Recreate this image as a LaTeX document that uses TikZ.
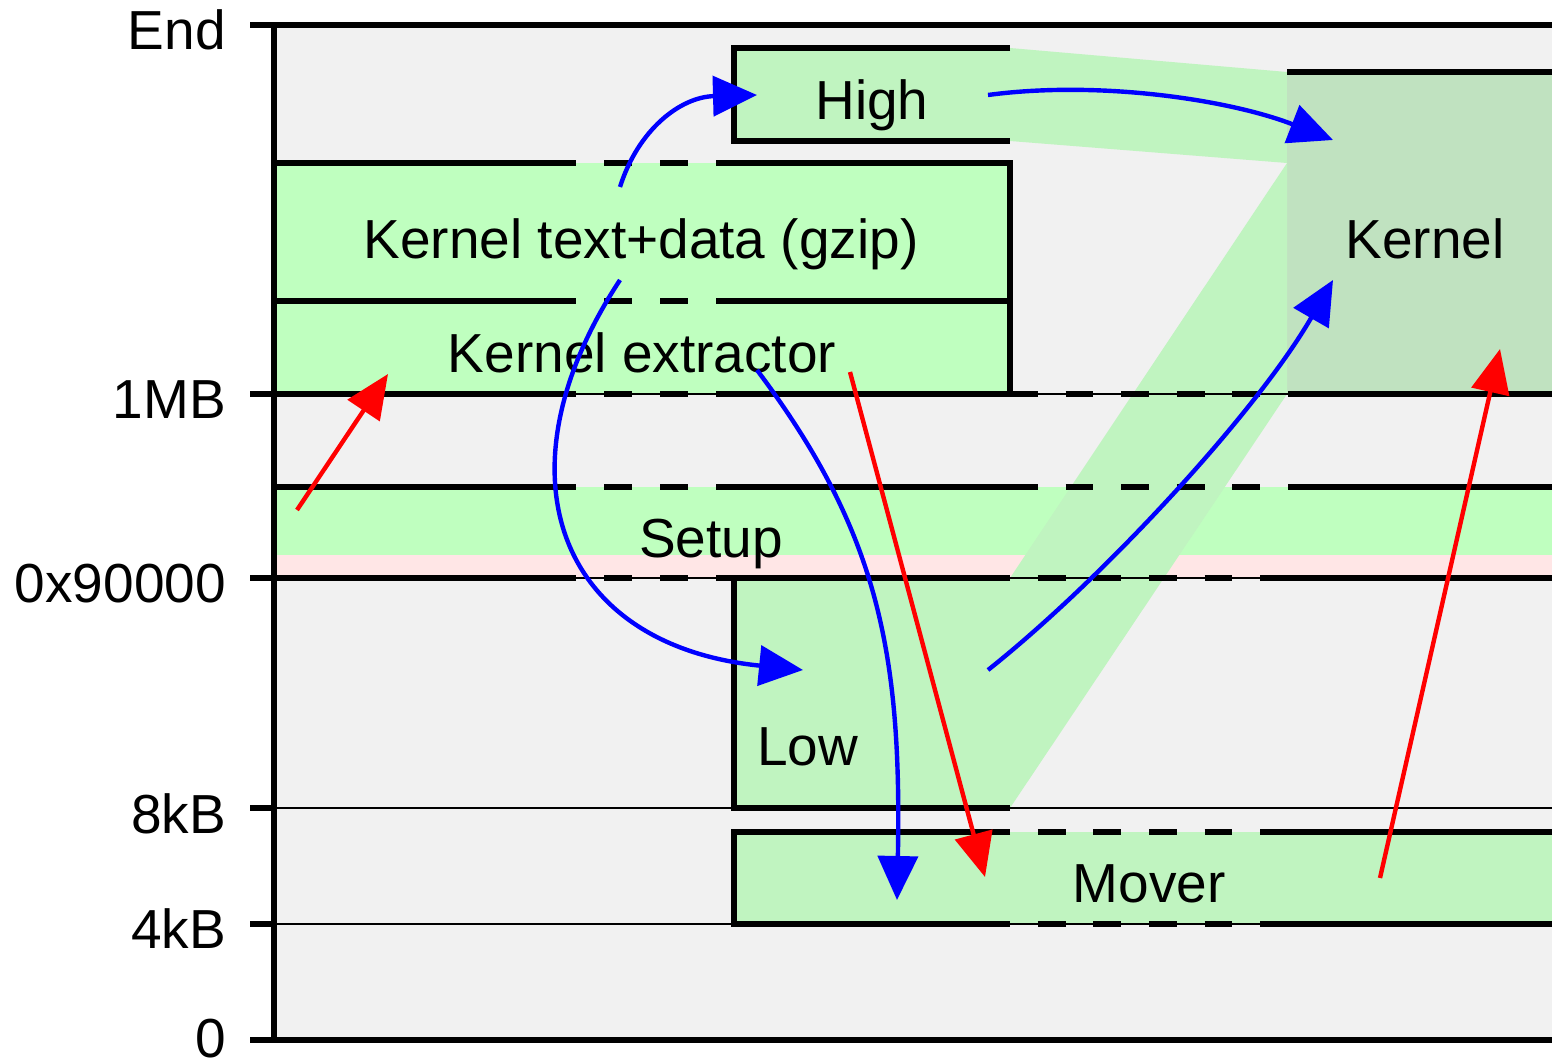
\documentclass[tikz,border=0pt]{standalone}
\usepackage{fontspec}
\setmainfont{Liberation Sans}
\usetikzlibrary{arrows.meta}
\definecolor{bg}{HTML}{F1F1F1}
\definecolor{boxgreen}{HTML}{BFFFBF}
\definecolor{movegreen}{HTML}{C0F4C0}
\definecolor{kerngreen}{HTML}{C0E2C0}
\definecolor{pinkband}{HTML}{FFE6E6}
\definecolor{arrblue}{HTML}{0000FF}
\definecolor{arrred}{HTML}{FF0000}
\begin{document}
\begin{tikzpicture}[x=1pt,y=-1pt,
  thickline/.style={line width=5.6pt},
  thinline/.style={line width=2.6pt},
  dashoff/.style={line width=5.6pt, dash pattern=on 28pt off 28pt, dash phase=28pt},
  dashon/.style={line width=5.6pt, dash pattern=on 27.8pt off 27.8pt},
  dashoffb/.style={line width=5.6pt, dash pattern=on 27.8pt off 27.8pt, dash phase=27.8pt},
  lbl/.style={font=\fontsize{55}{66}\selectfont, inner sep=0pt, anchor=base},
  axl/.style={font=\fontsize{55}{66}\selectfont, inner sep=0pt, anchor=base east},
  bluearr/.style={draw=arrblue, line width=4.4pt, -{Triangle[length=44pt,width=40pt]}},
  redarr/.style={draw=arrred, line width=4.4pt, -{Triangle[length=44pt,width=38pt]}},
]
\useasboundingbox (0,0) rectangle (1552,1064);
% background
\fill[bg] (274,25) rectangle (1552,1040);
% bands
\fill[boxgreen] (274,487) rectangle (1552,555);
\fill[pinkband] (274,555) rectangle (1552,578);
% kernel text+data / extractor
\fill[boxgreen] (274,163) rectangle (1010,394);
% high box and move trapezoid
\fill[movegreen] (734,48) rectangle (1010,141);
\fill[movegreen] (1010,48) -- (1287,72) -- (1287,163) -- (1010,141) -- cycle;
% kernel box
\fill[kerngreen] (1287,72) rectangle (1552,394);
% low -> kernel parallelogram
\fill[movegreen] (1010,578) -- (1287,163) -- (1287,394) -- (1010,808) -- cycle;
% low box
\fill[movegreen] (734,578) rectangle (1010,808);
% mover
\fill[movegreen] (734,832) rectangle (1552,924);

% thin lines
\foreach \yy in {394,578,808,924} \draw[thinline] (250,\yy) -- (1552,\yy);

% axis and ticks
\draw[thickline] (274,25) -- (274,1040);
\draw[thickline] (250,25) -- (1552,25);
\draw[thickline] (250,1040) -- (1552,1040);
\foreach \yy in {394,578,808,924} \draw[thickline] (250,\yy) -- (274,\yy);

% kernel text box outline
\draw[thickline] (274,163) -- (576,163);
\draw[dashoff] (576,163) -- (716,163);
\draw[thickline] (716,163) -- (1010,163) -- (1010,394);
\draw[thickline] (274,301) -- (576,301);
\draw[dashoff] (576,301) -- (716,301);
\draw[thickline] (716,301) -- (1010,301);
% 1MB line
\draw[thickline] (274,394) -- (576,394);
\draw[dashoff] (576,394) -- (716,394);
\draw[thickline] (716,394) -- (1010,394);
\draw[dashon] (1010,394) -- (1288,394);
\draw[thickline] (1288,394) -- (1552,394);
% setup top
\draw[thickline] (274,487) -- (576,487);
\draw[dashoff] (576,487) -- (716,487);
\draw[thickline] (716,487) -- (1010,487);
\draw[dashon] (1010,487) -- (1288,487);
\draw[thickline] (1288,487) -- (1552,487);
% 0x90000 line
\draw[thickline] (274,578) -- (576,578);
\draw[dashoff] (576,578) -- (716,578);
\draw[thickline] (716,578) -- (1010,578);
\draw[dashoffb] (1010,578) -- (1288,578);
\draw[thickline] (1288,578) -- (1552,578);
% high box
\draw[thickline] (1010,48) -- (734,48) -- (734,141) -- (1010,141);
% kernel box top
\draw[thickline] (1287,72) -- (1552,72);
% low box
\draw[thickline] (734,578) -- (734,808) -- (1010,808);
% mover
\draw[thickline] (1010,832) -- (734,832) -- (734,924) -- (1010,924);
\draw[dashoffb] (1010,832) -- (1288,832);
\draw[thickline] (1288,832) -- (1552,832);
\draw[dashoffb] (1010,924) -- (1288,924);
\draw[thickline] (1288,924) -- (1552,924);

% labels
\node[lbl] (high) at (872,120) {High};
\node[lbl] (ktext) at (641,259) {Kernel text+data (gzip)};
\node[lbl] (kext) at (642,372) {Kernel extractor};
\node[lbl] (kern) at (1425,259) {Kernel};
\node[lbl] (setup) at (711,557) {Setup};
\node[lbl, anchor=base west] (low) at (757,765) {Low};
\node[lbl] (mover) at (1149,902) {Mover};
\node[axl] (lend) at (226,50) {End};
\node[axl] (l1mb) at (226,418) {1MB};
\node[axl] (l9) at (226,602) {0x90000};
\node[axl] (l8k) at (226,833) {8kB};
\node[axl] (l4k) at (226,948) {4kB};
\node[axl] (l0) at (226,1057) {0};

% arrow end points
\coordinate (b1s) at (620,187); \coordinate (b1e) at (757,95);
\coordinate (b2s) at (988,95);  \coordinate (b2e) at (1333,140);
\coordinate (b3s) at (620,280); \coordinate (b3e) at (803,670);
\coordinate (b4s) at (757,370); \coordinate (b4e) at (897,900);
\coordinate (b5s) at (988,670); \coordinate (b5e) at (1333,280);
\coordinate (r1s) at (297,510); \coordinate (r1e) at (388,374);
\coordinate (r2s) at (850,372); \coordinate (r2e) at (985,877);
\coordinate (r3s) at (1380,878); \coordinate (r3e) at (1500,349);

\draw[bluearr] (b1s) .. controls (638,130) and (680,97) .. (b1e);
\draw[bluearr] (b2s) .. controls (1100,80) and (1230,100) .. (b2e);
\draw[bluearr] (b3s) .. controls (494,471) and (555,645) .. (b3e);
\draw[bluearr] (b4s) .. controls (877,530) and (902,650) .. (b4e);
\draw[bluearr] (b5s) .. controls (1105,577) and (1258,410) .. (b5e);
\draw[redarr] (r1s) -- (r1e);
\draw[redarr] (r2s) -- (r2e);
\draw[redarr] (r3s) -- (r3e);
\end{tikzpicture}
\end{document}
